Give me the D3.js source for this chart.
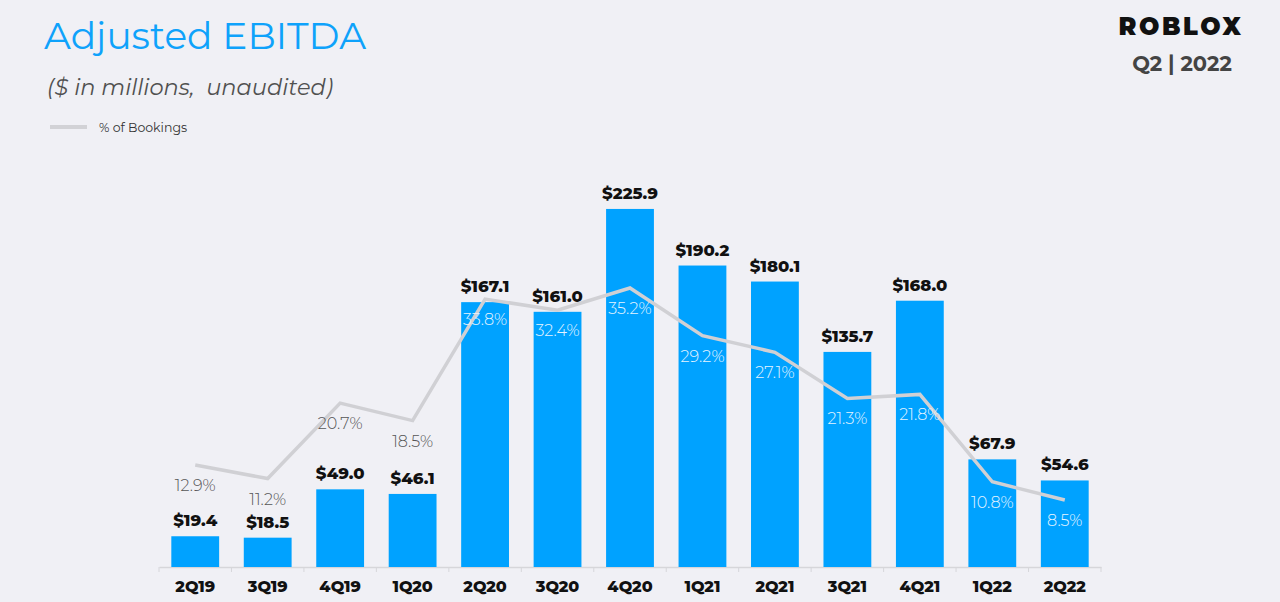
<!DOCTYPE html>
<html>
<head>
<meta charset="utf-8">
<script src="https://cdn.jsdelivr.net/npm/d3@7"></script>
<style>
  html, body { margin: 0; padding: 0; background: #f0f0f5; }
  svg { display: block; }
</style>
</head>
<body>
<svg id="chart" width="1280" height="602"></svg>
<script>
const categories = ["2Q19","3Q19","4Q19","1Q20","2Q20","3Q20","4Q20","1Q21","2Q21","3Q21","4Q21","1Q22","2Q22"];
const ebitda = [19.4, 18.5, 49.0, 46.1, 167.1, 161.0, 225.9, 190.2, 180.1, 135.7, 168.0, 67.9, 54.6];
const pctBookings = [12.9, 11.2, 20.7, 18.5, 33.8, 32.4, 35.2, 29.2, 27.1, 21.3, 21.8, 10.8, 8.5];

const svg = d3.select("#chart");
const font = "Montserrat, 'Open Sans', Lato, sans-serif";

svg.append("rect").attr("width",1280).attr("height",602).attr("fill","#f0f0f5");

const x = d3.scaleBand().domain(categories).range([159, 1101]).paddingInner(0.34).paddingOuter(0.17);
const xc = d3.scaleBand().domain(categories).range([159, 1101]);
const y = d3.scaleLinear().domain([0, 250]).range([567, 170.75]);
const y2 = d3.scaleLinear().domain([0, 50]).range([567.5, 170.5]);

// Title & subtitle
svg.append("text").attr("x",44).attr("y",49).attr("font-family",font).attr("font-size",37.5)
  .attr("fill","#0ea2fb").text("Adjusted EBITDA");
svg.append("text").attr("x",47).attr("y",95).attr("font-family",font).attr("font-size",22.5)
  .attr("font-style","italic").attr("fill","#505050").style("white-space","pre")
  .text("($ in millions,  unaudited)");

// Legend
svg.append("line").attr("x1",50).attr("x2",87).attr("y1",127).attr("y2",127)
  .attr("stroke","#d2d2d6").attr("stroke-width",4);
svg.append("text").attr("x",99).attr("y",131.5).attr("font-family",font).attr("font-size",12.5)
  .attr("fill","#333").text("% of Bookings");

// Logo & period
svg.append("text").attr("x",1181).attr("y",35).attr("text-anchor","middle").attr("font-family",font)
  .attr("font-size",24).attr("font-weight",900).attr("letter-spacing",2.6).attr("fill","#111").text("ROBLOX");
svg.append("text").attr("x",1182).attr("y",71).attr("text-anchor","middle").attr("font-family",font)
  .attr("font-size",21).attr("font-weight",700).attr("fill","#444").text("Q2 | 2022");

// Axis
const axis = d3.axisBottom(xc).tickSize(0).tickPadding(11);
const gx = svg.append("g").attr("transform","translate(0,567)").call(axis);
gx.select(".domain").attr("stroke","#d6d6da").attr("stroke-width",1.5);
gx.selectAll(".tick text").attr("font-family",font).attr("font-size",16).attr("font-weight",800)
  .attr("fill","#111").attr("dy","0.9em");
// boundary tick marks
const bounds = categories.map(c => xc(c)).concat([xc(categories[categories.length-1]) + xc.bandwidth()]);
svg.append("g").selectAll("line").data(bounds).join("line")
  .attr("x1",d=>d).attr("x2",d=>d).attr("y1",567).attr("y2",572)
  .attr("stroke","#d6d6da").attr("stroke-width",1);

// Bars
svg.append("g").selectAll("rect").data(categories).join("rect")
  .attr("x", d => x(d)).attr("width", x.bandwidth())
  .attr("y", (d,i) => y(ebitda[i])).attr("height", (d,i) => y(0) - y(ebitda[i]))
  .attr("fill","#00a2ff");

// Value labels
svg.append("g").selectAll("text").data(categories).join("text")
  .attr("x", d => x(d) + x.bandwidth()/2).attr("y", (d,i) => y(ebitda[i]) - 10)
  .attr("text-anchor","middle").attr("font-family",font).attr("font-size",16.5).attr("font-weight",800)
  .attr("fill","#111").text((d,i) => "$" + ebitda[i].toFixed(1));

// Line
const line = d3.line().x((d,i) => xc(categories[i]) + xc.bandwidth()/2).y(d => y2(d));
svg.append("path").datum(pctBookings).attr("d", line).attr("fill","none")
  .attr("stroke","#d0d0d4").attr("stroke-width",3.5).attr("stroke-linejoin","miter");

// Percent labels
svg.append("g").selectAll("text").data(categories).join("text")
  .attr("x", d => xc(d) + xc.bandwidth()/2).attr("y", (d,i) => y2(pctBookings[i]) + 26)
  .attr("text-anchor","middle").attr("font-family",font).attr("font-size",16).attr("font-weight",300)
  .attr("fill", (d,i) => i < 4 ? "#555" : "#e6f4ff").text((d,i) => pctBookings[i].toFixed(1) + "%");
</script>
</body>
</html>
